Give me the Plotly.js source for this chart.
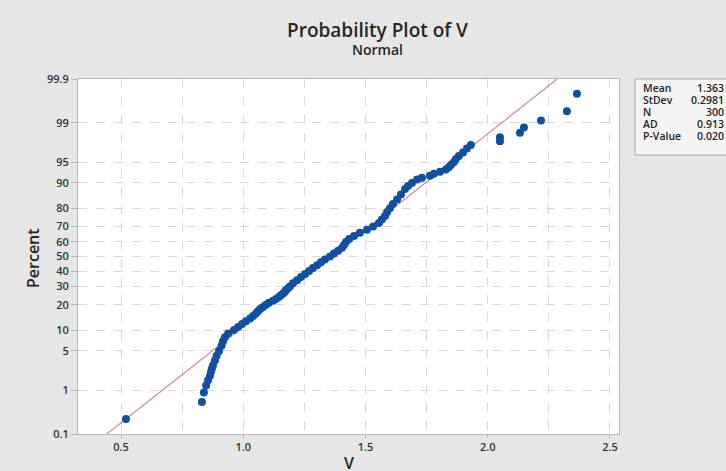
<!DOCTYPE html>
<html>
<head>
<meta charset="utf-8">
<script src="https://cdn.plot.ly/plotly-3.0.1.min.js"></script>
<style>html,body{margin:0;padding:0;background:#e6e6e6;}#chart{width:726px;height:471px;}</style>
</head>
<body>
<div id="chart"></div>
<script>
// Data
const vValues = [0.520,0.831,0.839,0.848,0.856,0.864,0.868,0.872,0.876,0.884,0.891,0.901,0.911,0.917,0.925,0.938,0.962,0.979,0.995,1.011,1.028,1.040,1.052,1.060,1.069,1.081,1.093,1.105,1.122,1.134,1.146,1.154,1.163,1.171,1.175,1.183,1.191,1.203,1.220,1.236,1.253,1.269,1.285,1.302,1.318,1.334,1.355,1.371,1.388,1.404,1.412,1.420,1.433,1.453,1.477,1.506,1.531,1.555,1.567,1.580,1.588,1.600,1.612,1.629,1.645,1.662,1.674,1.690,1.711,1.731,1.764,1.780,1.805,1.829,1.841,1.850,1.862,1.870,1.882,1.899,1.915,1.931,2.050,2.050,2.132,2.148,2.218,2.324,2.365];
const percentValues = [0.233,0.566,0.899,1.23,1.56,1.90,2.23,2.56,2.9,3.5,4.2,5,6,7,8,9,10,11,12,13,14,15,16,17,18,19,20,21,22,23,24,25,26,27,28,29,30,32,34,36,38,40,42,44,46,48,50,52,54,56,58,60,62,64,66,68,70,72,74,76,78,80,82,84,86,88,89,90,91,91.5,92,92.5,93,93.5,94,94.5,95,95.5,96,96.5,97,97.4,97.77,98.1,98.44,98.77,99.10,99.43,99.77];
const fitV = [0.442, 2.284];
const fitPercent = [0.1, 99.9];
const yTickPercents = [0.1,1,5,10,20,30,40,50,60,70,80,90,95,99,99.9];
const yTickLabels = ['0.1','1','5','10','20','30','40','50','60','70','80','90','95','99','99.9'];
const xTickVals = [0.5,1.0,1.5,2.0,2.5];
const statLabels = ['Mean','StDev','N','AD','P-Value'];
const statValues = ['1.363','0.2981','300','0.913','0.020'];

// inverse standard normal (Acklam) – probability scale transform
function invNorm(p){
  const a=[-3.969683028665376e+01,2.209460984245205e+02,-2.759285104469687e+02,1.383577518672690e+02,-3.066479806614716e+01,2.506628277459239e+00];
  const b=[-5.447609879822406e+01,1.615858368580409e+02,-1.556989798598866e+02,6.680131188771972e+01,-1.328068155288572e+01];
  const c=[-7.784894002430293e-03,-3.223964580411365e-01,-2.400758277161838e+00,-2.549732539343734e+00,4.374664141464968e+00,2.938163982698783e+00];
  const d=[7.784695709041462e-03,3.224671290700398e-01,2.445134137142996e+00,3.754408661907416e+00];
  const pl=0.02425, ph=1-pl; let q,r;
  if(p<pl){q=Math.sqrt(-2*Math.log(p));return (((((c[0]*q+c[1])*q+c[2])*q+c[3])*q+c[4])*q+c[5])/((((d[0]*q+d[1])*q+d[2])*q+d[3])*q+1);}
  if(p<=ph){q=p-0.5;r=q*q;return (((((a[0]*r+a[1])*r+a[2])*r+a[3])*r+a[4])*r+a[5])*q/(((((b[0]*r+b[1])*r+b[2])*r+b[3])*r+b[4])*r+1);}
  q=Math.sqrt(-2*Math.log(1-p));return -(((((c[0]*q+c[1])*q+c[2])*q+c[3])*q+c[4])*q+c[5])/((((d[0]*q+d[1])*q+d[2])*q+d[3])*q+1);
}
const toZ = p => invNorm(p/100);

const font = "'Open Sans', 'Noto Sans', sans-serif";
const traces = [
  {x: fitV, y: fitPercent.map(toZ), mode:'lines', line:{color:'#cc8a8a', width:1.2}, hoverinfo:'skip', showlegend:false},
  {x: vValues, y: percentValues.map(toZ), mode:'markers', marker:{color:'#11509f', size:8}, showlegend:false}
];

const ann = [
  {text:'Probability Plot of V', xref:'paper', yref:'paper', x:0.553, y:1.138, xanchor:'center', yanchor:'middle', showarrow:false, font:{family:font, size:19, color:'#262626', weight:600}},
  {text:'Normal', xref:'paper', yref:'paper', x:0.553, y:1.082, xanchor:'center', yanchor:'middle', showarrow:false, font:{family:font, size:14, color:'#262626', weight:600}},
  {text:'Percent', xref:'paper', yref:'paper', x:-0.083, y:0.496, xanchor:'center', yanchor:'middle', textangle:-90, showarrow:false, font:{family:font, size:16, color:'#262626', weight:600}},
  {text:'V', xref:'paper', yref:'paper', x:0.5, y:-0.082, xanchor:'center', yanchor:'middle', showarrow:false, font:{family:font, size:16, color:'#262626', weight:600}}
];
statLabels.forEach((s,i)=>{
  const yy = 1 - (88 + i*12 - 79)/355;
  ann.push({text:s, xref:'paper', yref:'paper', x:(642-78)/541, y:yy, xanchor:'left', yanchor:'middle', showarrow:false, borderpad:0, font:{family:font, size:10.5, color:'#262626', weight:600}});
  ann.push({text:statValues[i], xref:'paper', yref:'paper', x:(725-78)/541, y:yy, xanchor:'right', yanchor:'middle', showarrow:false, borderpad:0, font:{family:font, size:10.5, color:'#262626', weight:600}});
});

const layout = {
  width:726, height:471,
  margin:{l:78, r:107, t:79, b:37},
  paper_bgcolor:'#e6e6e6', plot_bgcolor:'#ffffff',
  showlegend:false,
  xaxis:{range:[0.324,2.537], tickvals:xTickVals, ticktext:xTickVals.map(v=>v.toFixed(1)),
    showgrid:true, gridcolor:'#d9d9d9', griddash:'dash', gridwidth:1,
    minor:{dtick:0.25, tick0:0, showgrid:true, gridcolor:'#d9d9d9', griddash:'dash', ticks:''},
    showline:true, mirror:true, linecolor:'#b8b8b8', linewidth:1,
    ticks:'outside', ticklen:3, tickcolor:'#b8b8b8',
    tickfont:{family:font, size:11, color:'#333333', weight:600}, zeroline:false},
  yaxis:{range:[toZ(0.1), toZ(99.9)], tickvals:yTickPercents.map(toZ), ticktext:yTickLabels,
    showgrid:true, gridcolor:'#d9d9d9', griddash:'dash', gridwidth:1,
    showline:true, mirror:true, linecolor:'#b8b8b8', linewidth:1,
    ticks:'outside', ticklen:6, tickcolor:'#b8b8b8',
    tickfont:{family:font, size:11, color:'#333333', weight:600}, zeroline:false},
  shapes:[
    {type:'rect', xref:'paper', yref:'paper', x0:(635-78)/541, x1:(728-78)/541, y0:1-(155-79)/355, y1:1, fillcolor:'#f4f4f4', line:{color:'#a8a8a8', width:1}, layer:'below'}
  ],
  annotations: ann
};
Plotly.newPlot('chart', traces, layout, {displayModeBar:false, staticPlot:true});
</script>
</body>
</html>
